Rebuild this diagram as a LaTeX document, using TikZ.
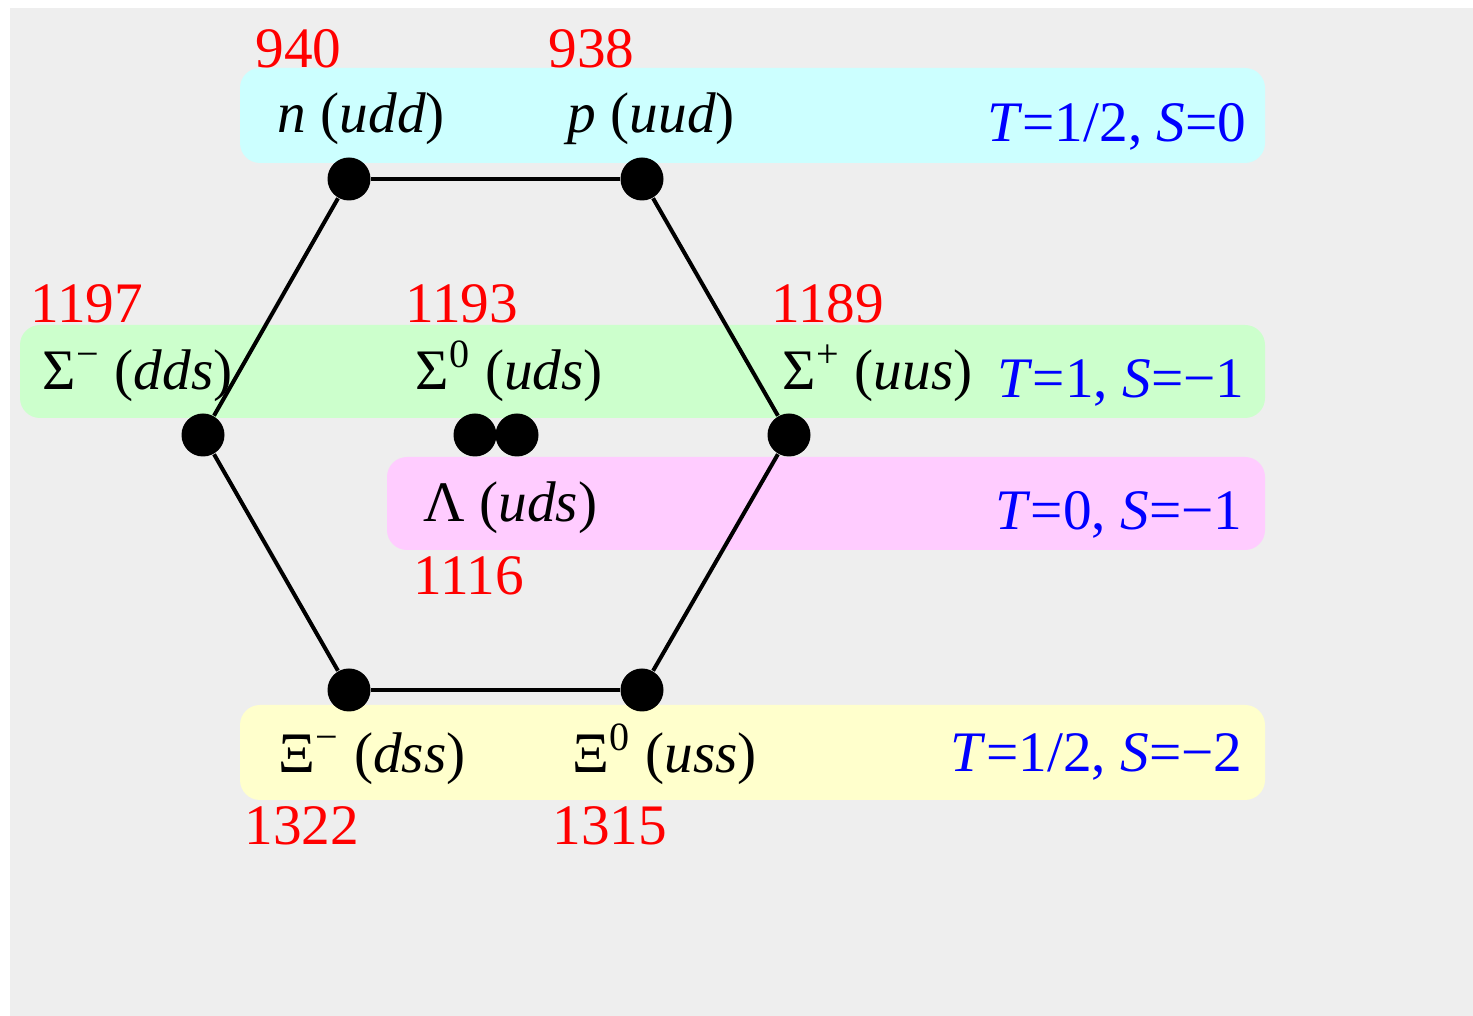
\documentclass[tikz,border=0pt]{standalone}
\usepackage{fontspec}
\setmainfont{Liberation Serif}
\definecolor{bggray}{HTML}{EEEEEE}
\definecolor{bandcyan}{HTML}{CCFFFF}
\definecolor{bandgreen}{HTML}{CCFFCC}
\definecolor{bandpink}{HTML}{FFCCFF}
\definecolor{bandyellow}{HTML}{FFFFCC}

\begin{document}
\begin{tikzpicture}[
  x=0.1mm,y=-0.1mm,
  font=\fontsize{16.3}{19}\selectfont,
  band/.style={rounded corners=2mm},
  dot/.style={circle,fill=black,inner sep=0pt,minimum size=4.3mm},
  edge/.style={line width=0.4mm,black},
  lbl/.style={anchor=base west,inner sep=0pt},
  mass/.style={anchor=base west,inner sep=0pt,red},
  qn/.style={anchor=base east,inner sep=0pt,blue}
]
\useasboundingbox (0,0) rectangle (1473,1016);
\fill[bggray] (10,8) rectangle (1473,1016);

% multiplet bands
\fill[band,bandcyan] (240,68) rectangle (1265,163);
\fill[band,bandgreen] (20,325) rectangle (1265,418);
\fill[band,bandpink] (387,457) rectangle (1265,550);
\fill[band,bandyellow] (240,705) rectangle (1265,800);

% T=1/2, S=0
\node[mass] (mn) at (255,68) {940};
\node[mass] (mp) at (548,68) {938};
\node[lbl] (ln) at (277,133) {\textit{n} (\textit{udd})};
\node[lbl] (lp) at (567,133) {\textit{p} (\textit{uud})};
\node[qn] (q1) at (1247,142) {\textit{T}=1/2, \textit{S}=0};

% T=1, S=-1
\node[mass] (msm) at (30,323) {1197};
\node[mass] (msz) at (405,323) {1193};
\node[mass] (msp) at (771,323) {1189};
\node[lbl] (lsm) at (42,390) {Σ\textsuperscript{−} (\textit{dds})};
\node[lbl] (lsz) at (415,390) {Σ\textsuperscript{0} (\textit{uds})};
\node[lbl] (lsp) at (782,390) {Σ\textsuperscript{+} (\textit{uus})};
\node[qn] (q2) at (1245,398) {\textit{T}=1, \textit{S}=−1};

% T=0, S=-1
\node[lbl] (llam) at (423,522) {Λ (\textit{uds})};
\node[mass] (mlam) at (413,595) {1116};
\node[qn] (q3) at (1243,530) {\textit{T}=0, \textit{S}=−1};

% T=1/2, S=-2
\node[lbl] (lxm) at (278,773) {Ξ\textsuperscript{−} (\textit{dss})};
\node[lbl] (lxz) at (572,773) {Ξ\textsuperscript{0} (\textit{uss})};
\node[mass] (mxm) at (244,845) {1322};
\node[mass] (mxz) at (552,845) {1315};
\node[qn] (q4) at (1243,772) {\textit{T}=1/2, \textit{S}=−2};

% octet points
\node[dot] (n) at (349,179) {};
\node[dot] (p) at (642,179) {};
\node[dot] (sm) at (203,435) {};
\node[dot] (sp) at (789,435) {};
\node[dot] (sz) at (475,435) {};
\node[dot] (lam) at (517,435) {};
\node[dot] (xm) at (349,690) {};
\node[dot] (xz) at (642,690) {};

\draw[edge] (n)--(p);
\draw[edge] (p)--(sp);
\draw[edge] (sp)--(xz);
\draw[edge] (xz)--(xm);
\draw[edge] (xm)--(sm);
\draw[edge] (sm)--(n);
\end{tikzpicture}
\end{document}
